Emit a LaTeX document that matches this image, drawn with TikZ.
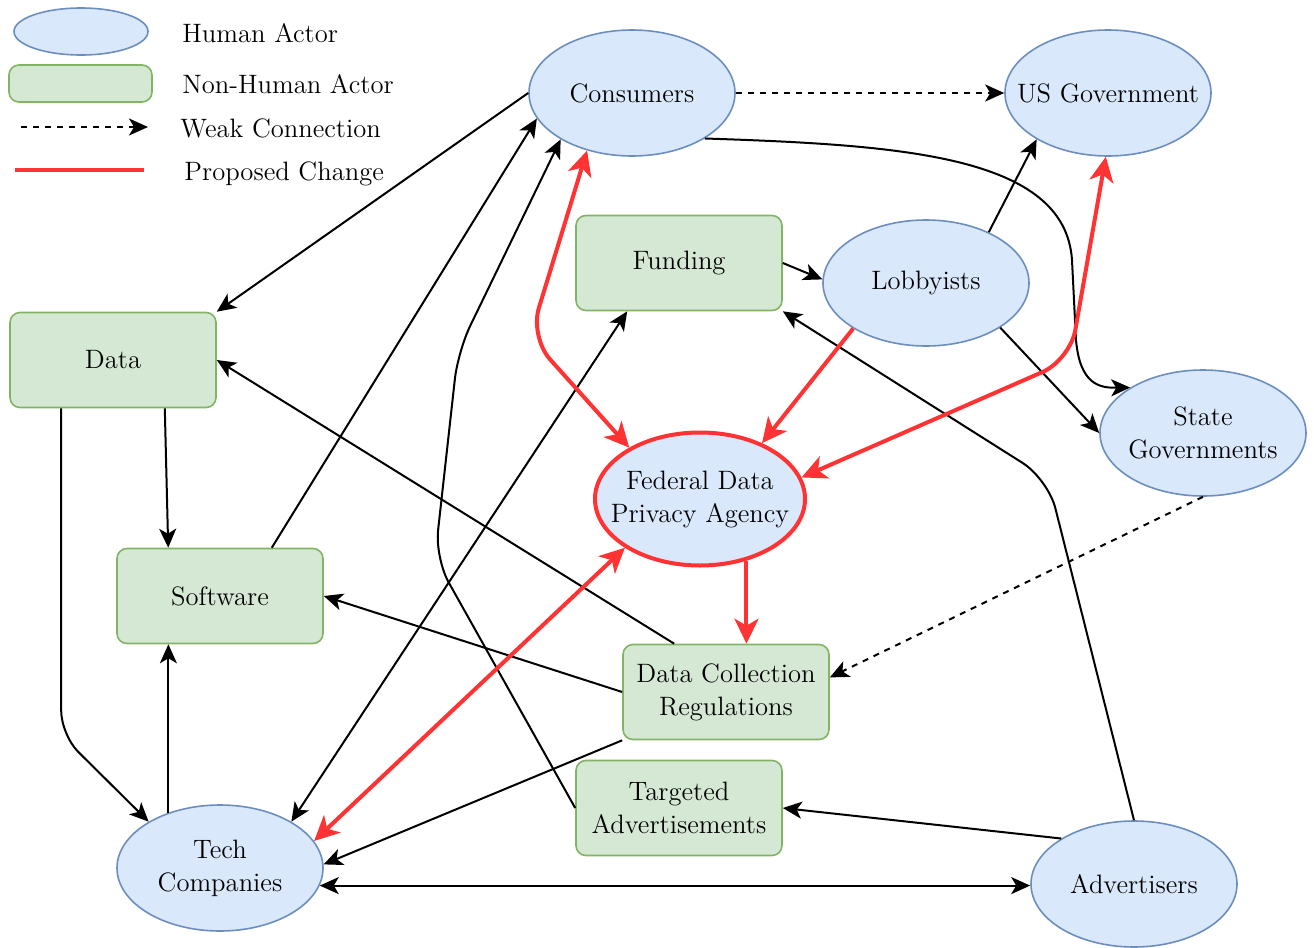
\documentclass[tikz,border=0pt]{standalone}
\usepackage{tikz}
\usetikzlibrary{arrows.meta,shapes.geometric}

\definecolor{humanfill}{HTML}{DAE8FC}
\definecolor{humanline}{HTML}{6C8EBF}
\definecolor{thingfill}{HTML}{D5E8D4}
\definecolor{thingline}{HTML}{82B366}
\definecolor{changered}{HTML}{FF3333}

\newcommand{\labelfont}{\fontsize{13.3}{16.5}\selectfont}

\tikzset{
    tag/.style={font=\labelfont,align=center,inner sep=0pt},
    keytext/.style={font=\labelfont,anchor=base west,inner sep=0pt},
    human/.style={ellipse,draw=humanline,fill=humanfill,line width=0.8pt,
        minimum width=103pt,minimum height=63pt,inner sep=0pt,
        label={[tag]center:#1}},
    human/.default={},
    thing/.style={rectangle,rounded corners=5pt,draw=thingline,fill=thingfill,
        line width=0.8pt,minimum width=103pt,minimum height=47.5pt,
        font=\labelfont,align=center},
    blacktip/.tip={Stealth[length=9.5pt,width=8.5pt,inset=2.5pt]},
    redtip/.tip={Stealth[length=12.5pt,width=12pt,inset=3.5pt]},
    link/.style={-{blacktip},line width=1pt},
    weak/.style={link,dash pattern=on 3pt off 3pt},
    change/.style={-{redtip},draw=changered,line width=2pt}
}

\begin{document}
\begin{tikzpicture}[x=0.5pt,y=-0.5pt]

    \useasboundingbox (0,0) rectangle (1314,948);

    % legend
    \node[human,minimum width=67pt,minimum height=23.5pt] (keyhuman) at (81,31.5) {};
    \node[keytext] (keyhumantext) at (182,42) {Human Actor};
    \node[thing,minimum width=71.5pt,minimum height=18.5pt] (keything) at (80.5,83.5) {};
    \node[keytext] (keythingtext) at (182,93) {Non-Human Actor};
    \coordinate (keyweakstart) at (21,127);
    \coordinate (keyweakend) at (148,127);
    \draw[weak](keyweakstart) to (keyweakend);
    \node[keytext] (keyweaktext) at (180,137) {Weak Connection};
    \coordinate (keychangestart) at (15,170);
    \coordinate (keychangeend) at (144,170);
    \draw[change,-](keychangestart) to (keychangeend);
    \node[keytext] (keychangetext) at (184,180) {Proposed Change};

    %%%%%%%%%%%%%%%%%%%%%%%%%%%%%%%%%%%%%%%%%%%%%%%%%%%%%%

    % human actors
    \node[human={Consumers}] (consumers) at (632,93) {};
    \node[human={US Government}] (usgov) at (1108,93) {};
    \node[human={Lobbyists}] (lobbyists) at (926,283) {};
    \node[human={State\\Governments}] (stategov) at (1203,433) {};
    \node[human={Tech\\Companies}] (techco) at (220,868) {};
    \node[human={Advertisers}] (advertisers) at (1134,884) {};

    % the proposed agency
    \node[human={Federal Data\\Privacy Agency},draw=changered,line width=2pt,
        minimum width=105pt,minimum height=66.5pt] (agency) at (700,499) {};

    % non-human actors
    \node[thing] (funding) at (679,263) {Funding};
    \node[thing] (data) at (113,360) {Data};
    \node[thing] (software) at (220,596) {Software};
    \node[thing] (regulations) at (726,692) {Data Collection\\Regulations};
    \node[thing] (targetedads) at (679,808) {Targeted\\Advertisements};

    %%%%%%%%%%%%%%%%%%%%%%%%%%%%%%%%%%%%%%%%%%%%%%%%%%%%%%

    % consumers
    \draw[weak](consumers.east) to (usgov.west);
    \draw[link](consumers.west) to (data.north east);
    \draw[link](consumers.328) .. controls (900,145) and (1065,155) .. (1072,260)
        -- (1076,340) .. controls (1080,385) and (1100,388) .. (stategov.148);

    % into consumers
    \draw[link](software.43) to (consumers.195);
    \draw[link,rounded corners=14pt](targetedads.west) -- (435,558) -- (458,351) -- (consumers.213);

    % lobbying
    \draw[link](funding.east) to (lobbyists.178);
    \draw[link](lobbyists.39) to (usgov.213);
    \draw[link](lobbyists.329) to (stategov.west);

    % advertisers
    \draw[link,rounded corners=15pt](advertisers.north) -- (1048,479) -- (funding.south east);
    \draw[link](advertisers.148) to (targetedads.east);
    \draw[link,{blacktip}-{blacktip}](techco.350) to (techco.350 -| advertisers.west);

    % tech companies
    \draw[link,{blacktip}-{blacktip}](techco.33) to (funding.223);
    \draw[link](techco.133) to (techco.133 |- software.south);

    % data
    \coordinate (databend) at (62,735);
    \draw[link](data.317) to (software.137);
    \draw[link,rounded corners=12pt](data.223) -- (data.223 |- databend) -- (techco.147);

    % regulations
    \draw[link](regulations.137) to (data.east);
    \draw[link](regulations.west) to (software.east);
    \draw[link](regulations.south west) to (techco.2);
    \draw[weak](stategov.south) to (regulations.8);

    %%%%%%%%%%%%%%%%%%%%%%%%%%%%%%%%%%%%%%%%%%%%%%%%%%%%%%

    % proposed changes
    \draw[change,{redtip}-{redtip},rounded corners=15pt](consumers.232) -- (530,337) -- (agency.144);
    \draw[change,{redtip}-{redtip},rounded corners=15pt](agency.12) -- (1070,360) -- (usgov.268);
    \draw[change](lobbyists.212) to (agency.42);
    \draw[change](agency.307) to (agency.307 |- regulations.north);
    \draw[change,{redtip}-{redtip}](agency.213) to (techco.16);

\end{tikzpicture}
\end{document}
